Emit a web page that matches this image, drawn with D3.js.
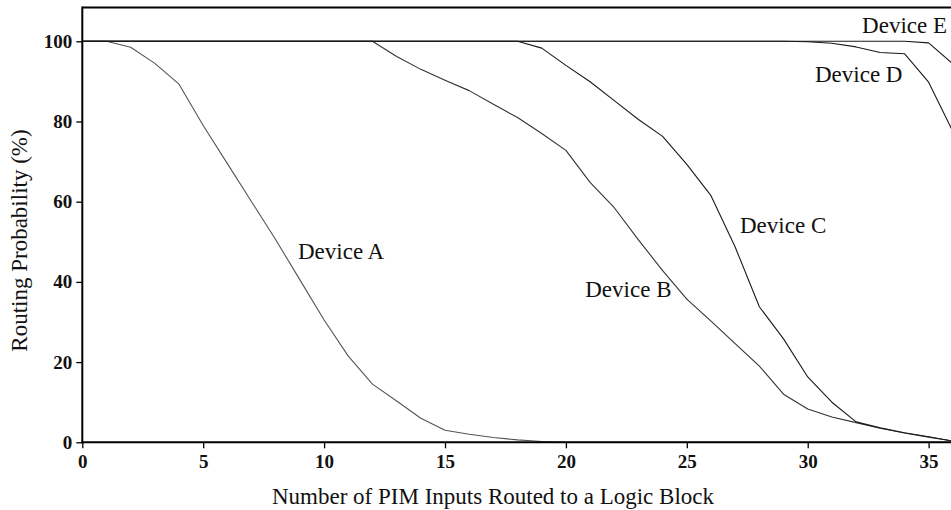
<!DOCTYPE html>
<html>
<head>
<meta charset="utf-8">
<script src="https://cdn.jsdelivr.net/npm/d3@7/dist/d3.min.js"></script>
<style>
  html, body { margin: 0; padding: 0; background: #fff; }
  svg { display: block; }
  text { font-family: "Liberation Serif", "Times New Roman", serif; fill: #111; }
</style>
</head>
<body>
<svg id="chart" width="951" height="510"></svg>
<script>
// Number of PIM inputs routed to a logic block
const inputs = d3.range(0, 37);

// Routing probability (%) per device
const deviceA = [100, 100, 98.5, 94.5, 89.3, 79, 69.5, 60, 50.5, 40.5, 30.5, 21.5, 14.5, 10.3, 6, 3, 2, 1.2, 0.6, 0.2,
  0, 0, 0, 0, 0, 0, 0, 0, 0, 0, 0, 0, 0, 0, 0, 0, 0];
const deviceB = [100, 100, 100, 100, 100, 100, 100, 100, 100, 100, 100, 100, 100, 96.2, 93, 90.3, 87.7, 84.3, 81, 77,
  72.8, 64.8, 58.5, 50.5, 42.8, 35.7, 30.2, 24.6, 19, 12, 8.3, 6.3, 4.9, 3.5, 2.3, 1.3, 0.3];
const deviceC = [100, 100, 100, 100, 100, 100, 100, 100, 100, 100, 100, 100, 100, 100, 100, 100, 100, 100, 100, 98.3,
  94, 89.9, 85.2, 80.5, 76.3, 69.3, 61.5, 48.7, 33.8, 25.8, 16.3, 10, 5.1, 3.6, 2.4, 1.4, 0.3];
const deviceD = [100, 100, 100, 100, 100, 100, 100, 100, 100, 100, 100, 100, 100, 100, 100, 100, 100, 100, 100, 100,
  100, 100, 100, 100, 100, 100, 100, 100, 100, 100, 99.9, 99.5, 98.6, 97.2, 96.9, 89.8, 77.5];
const deviceE = [100, 100, 100, 100, 100, 100, 100, 100, 100, 100, 100, 100, 100, 100, 100, 100, 100, 100, 100, 100,
  100, 100, 100, 100, 100, 100, 100, 100, 100, 100, 100, 100, 100, 100, 100, 99.6, 94.4];

const seriesNames = ["Device A", "Device B", "Device C", "Device D", "Device E"];
const seriesValues = [deviceA, deviceB, deviceC, deviceD, deviceE];

const xTicks = [0, 5, 10, 15, 20, 25, 30, 35];
const yTicks = [0, 20, 40, 60, 80, 100];

const xTitle = "Number of PIM Inputs Routed to a Logic Block";
const yTitle = "Routing Probability (%)";

const svg = d3.select("#chart");
const W = 951;

const x = d3.scaleLinear().domain([0, 36]).range([82.3, 952.8]);
const y = d3.scaleLinear().domain([0, 100]).range([442.3, 41.3]);
const yTop = 108.4;

// clip curves to the plotting frame
svg.append("defs").append("clipPath").attr("id", "plot")
  .append("rect")
  .attr("x", x(0)).attr("y", y(yTop))
  .attr("width", W - x(0)).attr("height", y(0) - y(yTop));

// curves
const line = d3.line()
  .x((d, i) => x(inputs[i]))
  .y(d => y(d));

const strokes = ["#555", "#333", "#1a1a1a", "#1a1a1a", "#1a1a1a"];
svg.append("g").attr("clip-path", "url(#plot)")
  .selectAll("path")
  .data(seriesValues)
  .join("path")
  .attr("d", line)
  .attr("fill", "none")
  .attr("stroke", (d, i) => strokes[i])
  .attr("stroke-width", 1.1)
  .attr("stroke-linejoin", "round");

// top frame line
svg.append("line")
  .attr("x1", x(0)).attr("x2", W)
  .attr("y1", y(yTop)).attr("y2", y(yTop))
  .attr("stroke", "#000").attr("stroke-width", 2);

// y axis
const yAxis = d3.axisLeft(y).tickValues(yTicks).tickSize(6).tickPadding(4).tickFormat(d3.format("d"));
const gy = svg.append("g").attr("transform", `translate(${x(0)},0)`).call(yAxis);
gy.select(".domain").remove();
gy.append("line")
  .attr("x1", 0).attr("x2", 0)
  .attr("y1", y(yTop) - 1).attr("y2", y(0) + 1)
  .attr("stroke", "#000").attr("stroke-width", 2);

// x axis
const xAxis = d3.axisBottom(x).tickValues(xTicks).tickSize(6).tickPadding(6).tickFormat(d3.format("d"));
const gx = svg.append("g").attr("transform", `translate(0,${y(0)})`).call(xAxis);
gx.select(".domain").remove();
gx.append("line")
  .attr("x1", x(0) - 1).attr("x2", W)
  .attr("y1", 0).attr("y2", 0)
  .attr("stroke", "#000").attr("stroke-width", 2);

[gx, gy].forEach(g => {
  g.attr("font-family", null).attr("font-size", null);
  g.selectAll(".tick line").attr("stroke", "#000").attr("stroke-width", 1.3);
  g.selectAll(".tick text")
    .attr("font-size", 19)
    .attr("font-weight", "bold")
    .attr("fill", "#111");
});

// axis titles
svg.append("text")
  .attr("x", 493).attr("y", 504)
  .attr("text-anchor", "middle")
  .attr("font-size", 23)
  .text(xTitle);

svg.append("text")
  .attr("transform", "translate(27,240.5) rotate(-90)")
  .attr("text-anchor", "middle")
  .attr("font-size", 23)
  .text(yTitle);

// series labels, placed next to their curves
const labelPos = [
  { x: 8.92, y: 45.7 },   // Device A
  { x: 20.8, y: 36.2 },   // Device B
  { x: 27.2, y: 52.2 },   // Device C
  { x: 30.3, y: 89.9 },   // Device D
  { x: 32.25, y: 102.0 }  // Device E
];
svg.append("g").selectAll("text")
  .data(seriesNames)
  .join("text")
  .attr("x", (d, i) => x(labelPos[i].x))
  .attr("y", (d, i) => y(labelPos[i].y))
  .attr("font-size", 23)
  .text(d => d);
</script>
</body>
</html>
